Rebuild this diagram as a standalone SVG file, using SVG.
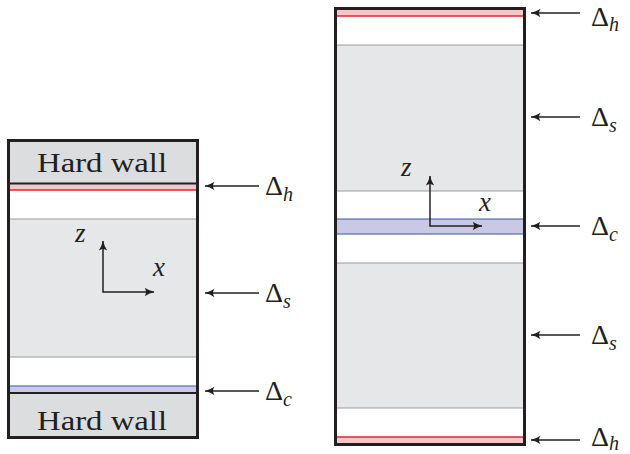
<svg xmlns="http://www.w3.org/2000/svg" width="630" height="454" viewBox="0 0 630 454">
  <style>
    .wall { fill: #dcdddf; }
    .bulk { fill: #e6e7e8; }
    .gline { stroke: #9a9a9a; stroke-width: 1; }
    .pink { fill: #f7c6c8; }
    .blue { fill: #c9c9e6; }
    .red { stroke: #e8222a; stroke-width: 1.5; }
    .bl { stroke: #3a55a8; stroke-width: 1.2; }
    .frame { fill: none; stroke: #231f20; stroke-width: 3; }
    .ax { stroke: #231f20; stroke-width: 1.5; fill: none; }
    text { fill: #231f20; }
    .walltxt { font-size: 28px; text-anchor: middle; }
    .sym { font-size: 28px; }
    .sub { font-size: 20px; font-style: italic; }
    .var { font-size: 27px; font-style: italic; }
  </style>
  <defs>
    <marker id="ah" viewBox="0 0 10 10" refX="9.5" refY="5" markerWidth="10" markerHeight="10" markerUnits="userSpaceOnUse" orient="auto">
      <path d="M0,0.8 Q5,4 10,5 Q5,6 0,9.2 Q3,5 0,0.8 Z" fill="#231f20"/>
    </marker>
  </defs>

  <!-- Left cell: confined between two hard walls -->
  <g id="left-cell">
    <rect class="wall" x="9" y="141" width="188" height="42"/>
    <rect class="pink" x="9" y="184" width="188" height="6"/>
    <line class="red" x1="9" y1="190" x2="197" y2="190"/>
    <rect class="bulk" x="9" y="219" width="188" height="138"/>
    <line class="gline" x1="9" y1="219" x2="197" y2="219"/>
    <line class="gline" x1="9" y1="357" x2="197" y2="357"/>
    <rect class="blue" x="9" y="386" width="188" height="7"/>
    <line class="bl" x1="9" y1="386" x2="197" y2="386"/>
    <rect class="wall" x="9" y="393" width="188" height="44"/>
    <line x1="9" y1="183.5" x2="197" y2="183.5" stroke="#231f20" stroke-width="2"/>
    <line x1="9" y1="393" x2="197" y2="393" stroke="#231f20" stroke-width="2"/>
    <rect class="frame" x="8.5" y="140.5" width="189" height="297"/>
    <text class="walltxt" font-family="'Liberation Serif', 'Times New Roman', 'DejaVu Serif', serif" x="102" y="172" textLength="130" lengthAdjust="spacingAndGlyphs">Hard wall</text>
    <text class="walltxt" font-family="'Liberation Serif', 'Times New Roman', 'DejaVu Serif', serif" x="102" y="430" textLength="130" lengthAdjust="spacingAndGlyphs">Hard wall</text>
  </g>

  <g id="left-axes">
    <line class="ax" x1="103" y1="292" x2="103" y2="241" marker-end="url(#ah)"/>
    <line class="ax" x1="102.3" y1="292" x2="154" y2="292" marker-end="url(#ah)"/>
    <text class="var" font-family="'Liberation Serif', 'Times New Roman', 'DejaVu Serif', serif" x="75" y="242">z</text>
    <text class="var" font-family="'Liberation Serif', 'Times New Roman', 'DejaVu Serif', serif" x="153" y="276">x</text>
  </g>

  <!-- Right cell: periodic slab -->
  <g id="right-cell">
    <rect class="pink" x="336" y="9" width="188" height="7"/>
    <line class="red" x1="336" y1="16" x2="524" y2="16"/>
    <rect class="bulk" x="336" y="45" width="188" height="146"/>
    <line class="gline" x1="336" y1="45" x2="524" y2="45"/>
    <line class="gline" x1="336" y1="191" x2="524" y2="191"/>
    <rect class="blue" x="336" y="219" width="188" height="15"/>
    <line class="bl" x1="336" y1="219" x2="524" y2="219"/>
    <line class="bl" x1="336" y1="234" x2="524" y2="234"/>
    <rect class="bulk" x="336" y="263" width="188" height="145"/>
    <line class="gline" x1="336" y1="263" x2="524" y2="263"/>
    <line class="gline" x1="336" y1="408" x2="524" y2="408"/>
    <rect class="pink" x="336" y="437" width="188" height="7"/>
    <line class="red" x1="336" y1="437" x2="524" y2="437"/>
    <rect class="frame" x="335.5" y="8.5" width="189" height="436"/>
  </g>

  <g id="right-axes">
    <line class="ax" x1="430" y1="226" x2="430" y2="176" marker-end="url(#ah)"/>
    <line class="ax" x1="429.3" y1="226" x2="482" y2="226" marker-end="url(#ah)"/>
    <text class="var" font-family="'Liberation Serif', 'Times New Roman', 'DejaVu Serif', serif" x="401" y="176">z</text>
    <text class="var" font-family="'Liberation Serif', 'Times New Roman', 'DejaVu Serif', serif" x="479" y="211">x</text>
  </g>

  <!-- Layer pointers -->
  <g id="connectors">
    <line class="ax" x1="259" y1="186" x2="205" y2="186" marker-end="url(#ah)"/>
    <line class="ax" x1="259" y1="293" x2="205" y2="293" marker-end="url(#ah)"/>
    <line class="ax" x1="259" y1="391" x2="205" y2="391" marker-end="url(#ah)"/>
    <line class="ax" x1="580" y1="13" x2="531" y2="13" marker-end="url(#ah)"/>
    <line class="ax" x1="580" y1="117" x2="531" y2="117" marker-end="url(#ah)"/>
    <line class="ax" x1="580" y1="226" x2="531" y2="226" marker-end="url(#ah)"/>
    <line class="ax" x1="580" y1="335" x2="531" y2="335" marker-end="url(#ah)"/>
    <line class="ax" x1="580" y1="440" x2="531" y2="440" marker-end="url(#ah)"/>
  </g>

  <g id="labels" font-family="'Liberation Serif', 'Times New Roman', 'DejaVu Serif', serif">
    <text class="sym" x="265" y="195">Δ<tspan class="sub" dy="6">h</tspan></text>
    <text class="sym" x="265" y="302">Δ<tspan class="sub" dy="6">s</tspan></text>
    <text class="sym" x="265" y="400">Δ<tspan class="sub" dy="6">c</tspan></text>
    <text class="sym" x="591" y="26">Δ<tspan class="sub" dy="5">h</tspan></text>
    <text class="sym" x="591" y="126">Δ<tspan class="sub" dy="6">s</tspan></text>
    <text class="sym" x="591" y="235">Δ<tspan class="sub" dy="6">c</tspan></text>
    <text class="sym" x="591" y="344">Δ<tspan class="sub" dy="6">s</tspan></text>
    <text class="sym" x="591" y="446">Δ<tspan class="sub" dy="4">h</tspan></text>
  </g>
</svg>
